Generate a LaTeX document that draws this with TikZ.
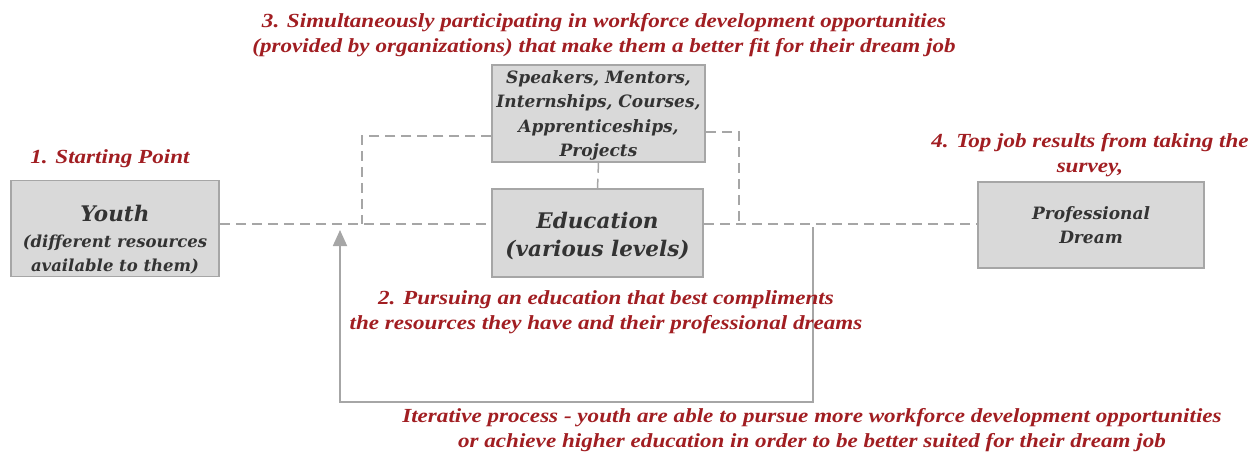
\documentclass[tikz,border=0pt]{standalone}
\usepackage{fontspec}
\newfontfamily\redfont[FakeStretch=1.155]{Liberation Serif}
\newfontfamily\boxfont{DejaVu Serif}
\usetikzlibrary{arrows.meta,calc}
\definecolor{boxfill}{HTML}{D9D9D9}
\definecolor{boxline}{HTML}{A6A6A6}
\definecolor{dashgray}{HTML}{A6A6A6}
\definecolor{redtxt}{HTML}{A11E22}
\definecolor{boxtxt}{HTML}{333333}
\begin{document}
\begin{tikzpicture}[x=1pt,y=-1pt,
  gbox/.style={draw=boxline,fill=boxfill,line width=1.5pt,inner sep=0pt},
  btext/.style={text=boxtxt,align=center,inner sep=0pt},
  dline/.style={draw=dashgray,line width=1.5pt,dash pattern=on 10pt off 6pt},
  loopline/.style={draw=boxline,line width=1.8pt},
  redlabel/.style={text=redtxt,align=center,font=\redfont\bfseries\itshape\fontsize{20}{25}\selectfont,inner sep=0pt}
]
\useasboundingbox (0,0) rectangle (1256,455);
% boxes
\node[gbox,minimum width=208pt,minimum height=96pt] (youth) at (115,228.5) {};
\node[gbox,minimum width=213pt,minimum height=97pt] (spk) at (598.5,113.5) {};
\node[gbox,minimum width=211pt,minimum height=88pt] (edu) at (597.5,233) {};
\node[gbox,minimum width=226pt,minimum height=86pt] (dream) at (1091,225) {};
% box texts
\node[btext,font=\boxfont\bfseries\itshape\fontsize{16.5}{24}\selectfont] (youtht) at (115,239.5)
  {{\fontsize{21.5}{26}\selectfont Youth}\\[2pt](different resources\\available to them)};
\node[btext,font=\boxfont\bfseries\itshape\fontsize{17}{24.5}\selectfont] (spkt) at (598.5,115.5)
  {Speakers, Mentors,\\Internships, Courses,\\Apprenticeships,\\Projects};
\node[btext,font=\boxfont\bfseries\itshape\fontsize{21.5}{28}\selectfont] (edut) at (597.5,236)
  {Education\\(various levels)};
\node[btext,font=\boxfont\bfseries\itshape\fontsize{17}{24}\selectfont] (dreamt) at (1091,225.5)
  {Professional\\Dream};
% helper coordinates
\coordinate (ly) at (0,224);
\coordinate (lb) at (362,136);
\coordinate (rb) at (739,132);
\coordinate (lpr) at (813,227);
\coordinate (lpb) at (813,402);
\coordinate (lpl) at (340,402);
\coordinate (lpt) at (340,230);
% dashed connectors
\draw[dline] (youth.east |- ly) -- (edu.west |- ly);
\draw[dline] (edu.east |- ly) -- (dream.west |- ly);
\draw[dline] (spk.west |- lb) -- (lb) -- (lb |- ly);
\draw[dline] (spk.east |- rb) -- (rb) -- (rb |- ly);
\draw[dline] (spk.south) -- (edu.north);
% loop arrow
\draw[loopline,-{Triangle[length=16pt,width=14pt]}] (lpr) -- (lpb) -- (lpl) -- (lpt);
% labels
\node[redlabel] (l1) at (110,159) {1. Starting Point};
\node[redlabel] (l3) at (604,35) {3. Simultaneously participating in workforce development opportunities\\(provided by organizations) that make them a better fit for their dream job};
\node[redlabel] (l4) at (1090,155.5) {4. Top job results from taking the\\survey,};
\node[redlabel] (l2) at (606,312) {2. Pursuing an education that best compliments\\the resources they have and their professional dreams};
\node[redlabel] (l5) at (812,430.5) {Iterative process - youth are able to pursue more workforce development opportunities\\or achieve higher education in order to be better suited for their dream job};
\end{tikzpicture}
\end{document}
